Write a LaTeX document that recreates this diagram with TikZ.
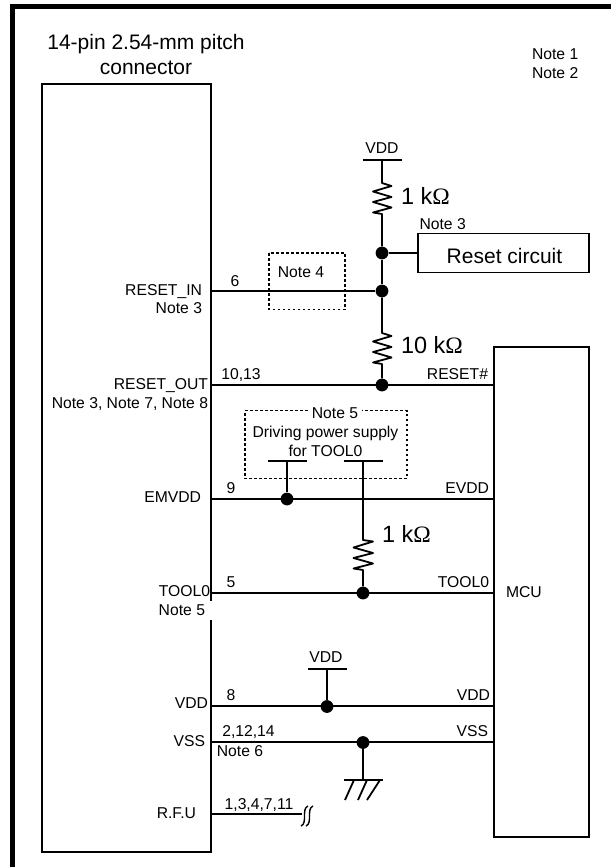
\documentclass[tikz,border=0pt]{standalone}
\usepackage{fontspec}
\setmainfont{Liberation Sans}
\newfontfamily\omegafont{Liberation Serif}
\newcommand{\ohmsign}{{\omegafont Ω}}
\begin{document}
\begin{tikzpicture}[x=1pt,y=-1pt,
  wire/.style={line width=1.8pt,line cap=butt,line join=miter},
  dashbox/.style={line width=1.5pt,dash pattern=on 2.8pt off 2.2pt},
  boxln/.style={draw,line width=1.8pt,inner sep=0pt,outer sep=0pt},
  dot/.style={circle,fill=black,inner sep=0pt,minimum size=12.8pt},
  small/.style={font=\fontsize{15.7}{18}\selectfont,inner sep=0pt,outer sep=0pt,yshift=-2.6pt},
  big/.style={font=\fontsize{21}{25}\selectfont,inner sep=0pt,outer sep=0pt,align=center},
  lbl/.style={small,anchor=mid},
  rl/.style={small,anchor=mid east},
  ll/.style={small,anchor=mid west},
  res/.style={font=\fontsize{23.5}{26}\selectfont,inner sep=0pt,outer sep=0pt,anchor=mid west,yshift=-5pt}]
\useasboundingbox (0,0) rectangle (611,867);
\fill[white] (0,0) rectangle (611,867);
\draw[line width=5pt] (12.5,867) -- (12.5,6.5) -- (611,6.5);

% boxes
\node[boxln,minimum width=169pt,minimum height=767.5pt] (conn) at (126.5,468) {};
\node[boxln,minimum width=95pt,minimum height=490pt] (mcu) at (541.5,592) {};
\node[boxln,minimum width=171pt,minimum height=39pt] (rst) at (503.5,253) {};
\node[big,yshift=-3pt] (rsttext) at (504.5,253) {Reset circuit};
\fill[white] (209.5,601) rectangle (212.5,620);

% dashed boxes
\draw[dashbox] (269,253) rectangle (345,309.5);
\draw[dashbox] (308,410.7) -- (245,410.7) -- (245,478.5) -- (407,478.5) -- (407,410.7) -- (362,410.7);

% junctions
\node[dot] (j1) at (382,253) {};
\node[dot] (j2) at (382,291) {};
\node[dot] (j3) at (382,385) {};
\node[dot] (j4) at (287,499) {};
\node[dot] (j5) at (363,593) {};
\node[dot] (j6) at (327,706.5) {};
\node[dot] (j7) at (363,742.5) {};

% rails
\coordinate (vt) at (382,160);
\coordinate (v5a) at (287,461);
\coordinate (v5b) at (363,461);
\coordinate (vb) at (327,669);
\coordinate (gnd) at (363,780);
\coordinate (nc) at (302,814);
\foreach \c in {vt,v5a,v5b,vb,gnd}
  \draw[wire] ([xshift=-19.5pt]\c) -- ([xshift=19.5pt]\c);

% horizontal wires
\draw[wire] (211,291) -- (j2);
\draw[wire] (211,385) -- (494,385);
\draw[wire] (211,499) -- (494,499);
\draw[wire] (211,593) -- (494,593);
\draw[wire] (211,706) -- (494,706);
\draw[wire] (211,742) -- (494,742);
\draw[wire] (211,814) -- (nc);
\draw[wire] (j1) -- (418,253);

% resistors and stems
\draw[wire,line join=round] (vt) -- (382,183) -- (391.5,186) -- (373,191.5) -- (391.5,197) -- (373,202) -- (391.5,207.5) -- (373,212.5) -- (382,214) -- (j1);
\draw[wire] (j1) -- (j2);
\draw[wire,line join=round] (j2) -- (382,333) -- (391.5,336) -- (373,341.5) -- (391.5,347) -- (373,352) -- (391.5,357.5) -- (373,362.5) -- (382,364) -- (j3);
\draw[wire] (v5a) -- (j4);
\draw[wire,line join=round] (v5b) -- (363,540) -- (373,541.5) -- (353.5,547.5) -- (373,553) -- (353.5,558) -- (373,563.5) -- (353.5,568.5) -- (363,570) -- (j5);
\draw[wire] (vb) -- (j6);
\draw[wire] (j7) -- (gnd);

% ground hatch
\draw[wire] (354,780) -- (345,800);
\draw[wire] (367,780) -- (358,800);
\draw[wire] (380,780) -- (367,800);

% no-connect squiggle
\draw[line width=1.4pt] (301,826) .. controls (308,823) and (301,809) .. (308,806);
\draw[line width=1.4pt] (306,826) .. controls (313,823) and (306,809) .. (313,806);

% titles
\node[big] (title) at (146,54.5) {14-pin 2.54-mm pitch\\[-0.5pt]connector};
\node[ll] (n1) at (532,54) {Note 1};
\node[ll] (n2) at (532,73) {Note 2};

% connector pin labels
\node[rl] (l1) at (202,290) {RESET\_IN};
\node[rl] (l2) at (202,308.5) {Note 3};
\node[rl] (l3) at (208,384.5) {RESET\_OUT};
\node[rl] (l4) at (208,403.5) {Note 3, Note 7, Note 8};
\node[rl] (l5) at (201,497) {EMVDD};
\node[rl] (l6) at (210,591) {TOOL0};
\node[rl] (l7) at (205,610) {Note 5};
\node[rl] (l8) at (208,703.5) {VDD};
\node[rl] (l9) at (205,741) {VSS};
\node[rl] (l10) at (196,813) {R.F.U};

% pin numbers
\node[lbl] (p1) at (235,281) {6};
\node[lbl] (p2) at (241,374.5) {10,13};
\node[lbl] (p3) at (231,488.5) {9};
\node[lbl] (p4) at (231,582.5) {5};
\node[lbl] (p5) at (231,695.5) {8};
\node[lbl] (p6) at (248.5,731.5) {2,12,14};
\node[lbl] (p7) at (240,751.5) {Note 6};
\node[lbl] (p8) at (259,804.5) {1,3,4,7,11};

% MCU labels
\node[rl] (m1) at (488,374.5) {RESET\#};
\node[rl] (m2) at (489,488.5) {EVDD};
\node[rl] (m3) at (489,582) {TOOL0};
\node[rl] (m4) at (490,695.5) {VDD};
\node[rl] (m5) at (488,731.5) {VSS};
\node[ll] (m6) at (506,592) {MCU};

% other labels
\node[lbl] (v1) at (382,148.5) {VDD};
\node[lbl] (v2) at (326,657.5) {VDD};
\node[ll] (n3) at (419.5,224.5) {Note 3};
\node[lbl] (n4) at (301,272) {Note 4};
\node[lbl] (n5) at (335,413) {Note 5};
\node[lbl] (d1) at (325.5,432) {Driving power supply};
\node[lbl] (d2) at (325.5,451) {for TOOL0};
\node[res] (r1) at (401,197) {1 k\ohmsign};
\node[res] (r2) at (401,346) {10 k\ohmsign};
\node[res] (r3) at (382,535) {1 k\ohmsign};
\end{tikzpicture}
\end{document}
